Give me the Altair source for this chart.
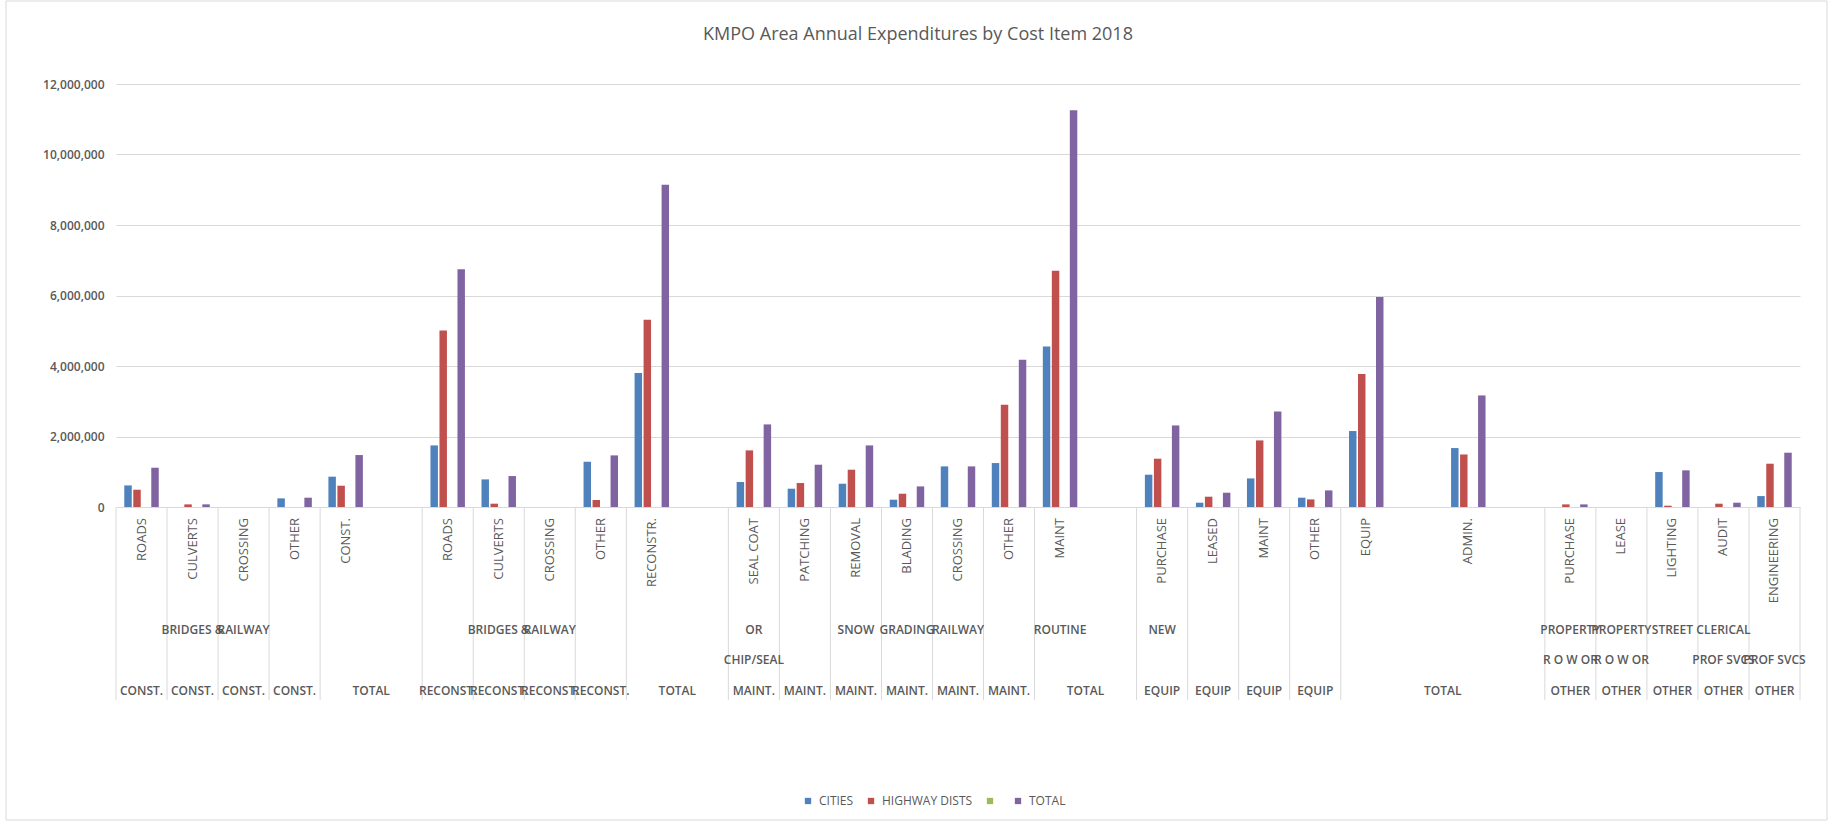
import altair as alt
import pandas as pd

TITLE = "KMPO Area Annual Expenditures by Cost Item 2018"

# innermost (rotated) category labels, one per category slot (33 slots)
inner_labels = ["ROADS", "CULVERTS", "CROSSING", "OTHER", "CONST.", "",
                "ROADS", "CULVERTS", "CROSSING", "OTHER", "RECONSTR.", "",
                "SEAL COAT", "PATCHING", "REMOVAL", "BLADING", "CROSSING", "OTHER", "MAINT", "",
                "PURCHASE", "LEASED", "MAINT", "OTHER", "EQUIP", "", "ADMIN.", "",
                "PURCHASE", "LEASE", "LIGHTING", "AUDIT", "ENGINEERING"]

mid_line1 = ["", "BRIDGES &", "RAILWAY", "", "", "",
             "", "BRIDGES &", "RAILWAY", "", "", "",
             "OR", "", "SNOW", "GRADING", "RAILWAY", "", "ROUTINE", "",
             "NEW", "", "", "", "", "", "", "",
             "PROPERTY", "PROPERTY", "STREET", "CLERICAL", ""]

mid_line2 = ["", "", "", "", "", "",
             "", "", "", "", "", "",
             "CHIP/SEAL", "", "", "", "", "", "", "",
             "", "", "", "", "", "", "", "",
             "R O W OR", "R O W OR", "", "PROF SVCS", "PROF SVCS"]

# outer group labels: (text, first slot, number of slots)
groups = [("CONST.", 0, 1), ("CONST.", 1, 1), ("CONST.", 2, 1), ("CONST.", 3, 1), ("TOTAL", 4, 2),
          ("RECONST.", 6, 1), ("RECONST.", 7, 1), ("RECONST.", 8, 1), ("RECONST.", 9, 1), ("TOTAL", 10, 2),
          ("MAINT.", 12, 1), ("MAINT.", 13, 1), ("MAINT.", 14, 1), ("MAINT.", 15, 1), ("MAINT.", 16, 1),
          ("MAINT.", 17, 1), ("TOTAL", 18, 2),
          ("EQUIP", 20, 1), ("EQUIP", 21, 1), ("EQUIP", 22, 1), ("EQUIP", 23, 1), ("TOTAL", 24, 4),
          ("OTHER", 28, 1), ("OTHER", 29, 1), ("OTHER", 30, 1), ("OTHER", 31, 1), ("OTHER", 32, 1)]

# values in millions of dollars (None = empty slot)
cities = [0.612, 0, 0, 0.245, 0.86, None,
          1.747, 0.783, 0, 1.284, 3.80, None,
          0.709, 0.519, 0.66, 0.207, 1.152, 1.247, 4.554, None,
          0.916, 0.122, 0.811, 0.264, 2.155, None, 1.672, None,
          0, 0, 0.992, 0, 0.31]
highway = [0.49, 0.074, 0, 0, 0.604, None,
           5.007, 0.094, 0, 0.198, 5.31, None,
           1.606, 0.68, 1.058, 0.377, 0, 2.9, 6.7, None,
           1.37, 0.292, 1.889, 0.216, 3.77, None, 1.49, None,
           0.074, 0, 0.037, 0.094, 1.228]
total = [1.114, 0.075, 0, 0.264, 1.474, None,
         6.748, 0.878, 0, 1.464, 9.14, None,
         2.343, 1.2, 1.747, 0.584, 1.152, 4.176, 11.256, None,
         2.314, 0.405, 2.711, 0.471, 5.954, None, 3.165, None,
         0.074, 0, 1.04, 0.122, 1.54]

series_names = ["CITIES", "HIGHWAY DISTS", " ", "TOTAL"]
series_colors = ["#4f81bd", "#c0504d", "#9bbb59", "#8064a2"]
y_ticks = [0, 2000000, 4000000, 6000000, 8000000, 10000000, 12000000]

GRAY = "#595959"
LINE = "#d9d9d9"
FONT = "Open Sans"

cat_ids = [f"slot{i:02d}" for i in range(len(inner_labels))]

rows = []
for name, vals in (("CITIES", cities), ("HIGHWAY DISTS", highway), ("TOTAL", total)):
    for cid, v in zip(cat_ids, vals):
        if v is not None:
            rows.append({"cat": cid, "series": name, "value": v * 1_000_000})
bars_df = pd.DataFrame(rows)

inner_df = pd.DataFrame({"cat": cat_ids, "label": inner_labels})
inner_df = inner_df[inner_df.label != ""]
l1_df = pd.DataFrame({"cat": cat_ids, "label": mid_line1})
l1_df = l1_df[l1_df.label != ""]
l2_df = pd.DataFrame({"cat": cat_ids, "label": mid_line2})
l2_df = l2_df[l2_df.label != ""]

single_groups = pd.DataFrame([{"cat": cat_ids[s], "label": t} for t, s, n in groups if n == 1])
span_groups = pd.DataFrame([{"cat": cat_ids[s + n // 2], "label": t} for t, s, n in groups if n > 1])
sep_df = pd.DataFrame({"cat": [cat_ids[s] for t, s, n in groups]})
sep_end_df = pd.DataFrame({"cat": [cat_ids[groups[-1][1] + groups[-1][2] - 1]]})

W, H = 1684, 423
xscale = alt.Scale(domain=cat_ids, paddingInner=0, paddingOuter=0)

bars = alt.Chart(bars_df).mark_bar().encode(
    x=alt.X("cat:N", scale=xscale, axis=None),
    xOffset=alt.XOffset("series:N", scale=alt.Scale(domain=series_names, paddingInner=0.17, paddingOuter=0.92)),
    y=alt.Y("value:Q",
            scale=alt.Scale(domain=[0, 12000000], nice=False),
            axis=alt.Axis(values=y_ticks, format=",d", title=None, domain=False, ticks=False,
                          grid=True, gridColor=LINE, gridWidth=1, labelFont=FONT, labelFontSize=12,
                          labelFontWeight=600, labelColor=GRAY, labelPadding=12)),
    color=alt.Color("series:N",
                    scale=alt.Scale(domain=series_names, range=series_colors),
                    legend=alt.Legend(orient="none", legendX=686, legendY=711, direction="horizontal",
                                      columns=4, title=None, symbolType="square", symbolSize=40,
                                      symbolStrokeWidth=0, labelFont=FONT, labelFontSize=12,
                                      labelColor=GRAY, labelOffset=5, columnPadding=11, padding=0)),
)

seps = alt.Chart(sep_df).mark_rule(color=LINE, strokeWidth=1).encode(
    x=alt.X("cat:N", scale=xscale, bandPosition=0, axis=None),
    y=alt.value(H), y2=alt.value(616),
)
sep_end = alt.Chart(sep_end_df).mark_rule(color=LINE, strokeWidth=1).encode(
    x=alt.X("cat:N", scale=xscale, bandPosition=1, axis=None),
    y=alt.value(H), y2=alt.value(616),
)

inner_text = alt.Chart(inner_df).mark_text(angle=270, align="right", baseline="middle",
                                           font=FONT, fontSize=13, color=GRAY).encode(
    x=alt.X("cat:N", scale=xscale, axis=None), y=alt.value(434), text="label:N")

hstyle = dict(align="center", baseline="middle", font=FONT, fontSize=12, fontWeight=600, color=GRAY)
l1_text = alt.Chart(l1_df).mark_text(**hstyle).encode(
    x=alt.X("cat:N", scale=xscale, axis=None), y=alt.value(546), text="label:N")
l2_text = alt.Chart(l2_df).mark_text(**hstyle).encode(
    x=alt.X("cat:N", scale=xscale, axis=None), y=alt.value(576), text="label:N")
g1_text = alt.Chart(single_groups).mark_text(**hstyle).encode(
    x=alt.X("cat:N", scale=xscale, axis=None), y=alt.value(607), text="label:N")
g2_text = alt.Chart(span_groups).mark_text(**hstyle).encode(
    x=alt.X("cat:N", scale=xscale, bandPosition=0, axis=None), y=alt.value(607), text="label:N")

title_text = alt.Chart(pd.DataFrame({"t": [TITLE]})).mark_text(
    align="center", baseline="middle", font=FONT, fontSize=18, color=GRAY).encode(
    x=alt.value(802), y=alt.value(-49), text="t:N")

frame = alt.Chart(pd.DataFrame({"k": [0]})).mark_rect(filled=False, stroke=LINE, strokeWidth=1).encode(
    x=alt.value(-110), x2=alt.value(1711), y=alt.value(-83), y2=alt.value(736))

chart = alt.layer(frame, seps, sep_end, bars, inner_text, l1_text, l2_text, g1_text, g2_text,
                  title_text).properties(
    width=W, height=H,
    padding={"left": 116, "top": 84, "right": 36, "bottom": 315},
    autosize=alt.AutoSizeParams(type="none"),
    background="white",
).configure_view(stroke=None)

chart.save("out.html", embed_options={"renderer": "svg", "actions": False})
